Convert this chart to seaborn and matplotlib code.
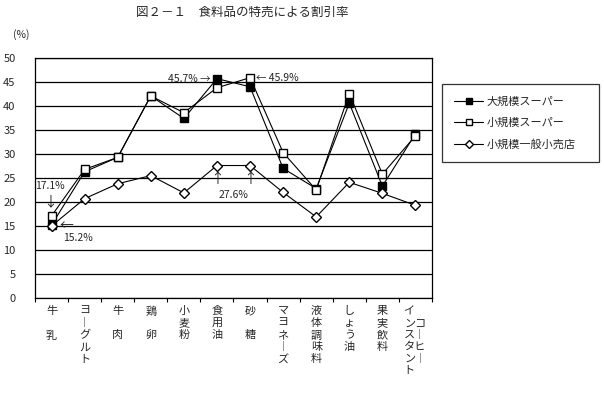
import numpy as np
import pandas as pd
import matplotlib
matplotlib.use("Agg")
import matplotlib.pyplot as plt
import seaborn as sns

# data
categories = ["牛乳", "ヨーグルト", "牛肉", "鶏卵", "小麦粉", "食用油", "砂糖",
              "マヨネーズ", "液体調味料", "しょう油", "果実飲料", "インスタントコーヒー"]
# vertical tick labels as in the original (one character per row)
tick_labels = ["牛\n\n乳", "ヨ\n︱\nグ\nル\nト", "牛\n\n肉", "鶏\n\n卵", "小\n麦\n粉",
               "食\n用\n油", "砂\n\n糖", "マ\nヨ\nネ\n︱\nズ", "液\n体\n調\n味\n料",
               "し\nょ\nう\n油", "果\n実\n飲\n料",
               "イ　\nンコ\nス︱\nタヒ\nン︱\nト　"]
large_super = [15.2, 26.3, 29.3, 42.1, 37.4, 45.7, 44.0, 27.0, 22.8, 40.6, 23.3, 34.2]
small_super = [17.1, 26.8, 29.3, 42.1, 38.6, 43.8, 45.9, 30.3, 22.5, 42.6, 25.8, 33.8]
small_retail = [15.0, 20.7, 23.8, 25.5, 21.9, 27.6, 27.6, 22.0, 16.9, 24.1, 21.8, 19.3]

series_names = ["大規模スーパー", "小規模スーパー", "小規模一般小売店"]

sns.set_theme(style="white")
plt.rcParams['font.family'] = ['Noto Sans CJK JP', 'DejaVu Sans']
plt.rcParams['axes.unicode_minus'] = False

df = pd.DataFrame({
    "x": np.tile(np.arange(len(categories)), 3),
    "value": large_super + small_super + small_retail,
    "series": np.repeat(series_names, len(categories)),
})

fig = plt.figure(figsize=(6.04, 3.95), dpi=100)
ax = fig.add_axes([35 / 604, 1 - 298 / 395, (432 - 35) / 604, (298 - 58) / 395])

styles = {
    "大規模スーパー": dict(marker="s", markerfacecolor="black", markersize=6),
    "小規模スーパー": dict(marker="s", markerfacecolor="white", markersize=6),
    "小規模一般小売店": dict(marker="D", markerfacecolor="white", markersize=5.5),
}
for name in series_names:
    sub = df[df["series"] == name]
    sns.lineplot(data=sub, x="x", y="value", ax=ax, color="black", linewidth=0.8,
                 markeredgecolor="black", markeredgewidth=1.0, sort=False,
                 label=name, **styles[name])

ax.set_xlim(-0.5, len(categories) - 0.5)
ax.set_ylim(0, 50)
ax.set_yticks(np.arange(0, 51, 5))
ax.yaxis.grid(True, color="black", linewidth=0.9)
ax.xaxis.grid(False)
ax.set_axisbelow(True)
for s in ax.spines.values():
    s.set_color("black")
    s.set_linewidth(0.9)

ax.set_xticks(np.arange(len(categories)))
ax.set_xticklabels(tick_labels, va="top", linespacing=1.25)
ax.set_xticks(np.arange(-0.5, len(categories), 1), minor=True)
ax.tick_params(axis="x", which="major", length=0, pad=6, labelsize=8)
ax.tick_params(axis="x", which="minor", length=3, width=0.8, color="black", direction="out", bottom=True)
ax.tick_params(axis="y", length=0, pad=14, labelsize=8)
ax.set_xlabel("")
ax.set_ylabel("")

# annotations
fs = 7.5
afs = 10
ax.annotate("17.1%", xy=(0, small_super[0]), xytext=(-1, 21.5), textcoords="offset points",
            ha="center", va="center", fontsize=fs)
ax.annotate("↓", xy=(0, small_super[0]), xytext=(-1, 10), textcoords="offset points",
            ha="center", va="center", fontsize=afs)
ax.annotate("15.2%", xy=(0, large_super[0]), xytext=(19, -9.5), textcoords="offset points",
            ha="center", va="center", fontsize=fs)
ax.annotate("←", xy=(0, large_super[0]), xytext=(10.5, -0.5), textcoords="offset points",
            ha="center", va="center", fontsize=afs)
ax.annotate("45.7% →", xy=(5, large_super[5]), xytext=(-5, 0), textcoords="offset points",
            ha="right", va="center", fontsize=fs)
ax.annotate("← 45.9%", xy=(6, small_super[6]), xytext=(4, 0), textcoords="offset points",
            ha="left", va="center", fontsize=fs)
for i in (5, 6):
    ax.annotate("↑", xy=(i, small_retail[i]), xytext=(0, -10), textcoords="offset points",
                ha="center", va="center", fontsize=afs)
ax.annotate("27.6%", xy=(5.5, small_retail[6]), xytext=(0, -21), textcoords="offset points",
            ha="center", va="center", fontsize=fs)

leg = ax.legend(loc="upper left", bbox_to_anchor=(442 / 604, 1 - 84 / 395, 157 / 604, 0),
                bbox_transform=fig.transFigure, mode="expand", borderaxespad=0,
                frameon=True, fancybox=False,
                edgecolor="black", fontsize=8, markerscale=0.75, handlelength=2.6,
                labelspacing=1.0, borderpad=1.1, handletextpad=0.3)
leg.get_frame().set_linewidth(0.9)

fig.text(242 / 604, 1 - 12 / 395, "図２－１　食料品の特売による割引率", ha="center", va="center", fontsize=9)
fig.text(13 / 604, 1 - 35 / 395, "(%)", ha="left", va="center", fontsize=7.5)

fig.savefig("out.png", dpi=100, facecolor="white")
